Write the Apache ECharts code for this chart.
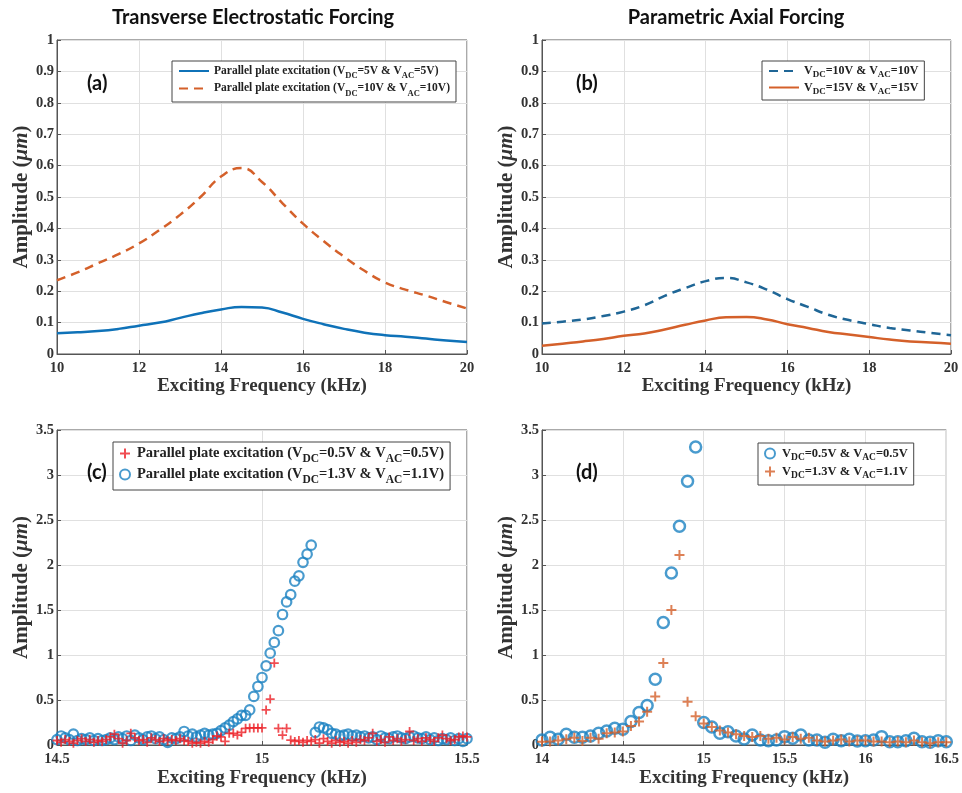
<!DOCTYPE html>
<html>
<head>
<meta charset="utf-8">
<script src="https://cdn.jsdelivr.net/npm/echarts@6/dist/echarts.min.js"></script>
<style>
html,body{margin:0;padding:0;background:#fff;}
#chart{width:962px;height:793px;}
</style>
</head>
<body>
<div id="chart"></div>
<script>
// ---------- DATA ----------
const abFreq = [10,10.5,11,11.5,12,12.5,13,13.5,14,14.5,15,15.5,16,16.5,17,17.5,18,18.5,19,19.5,20];
const aBlue = [0.066,0.069,0.073,0.080,0.090,0.100,0.115,0.130,0.142,0.150,0.148,0.132,0.112,0.095,0.080,0.068,0.060,0.055,0.049,0.043,0.038];
const aOrange = [0.235,0.260,0.289,0.318,0.352,0.395,0.443,0.500,0.565,0.592,0.548,0.480,0.415,0.360,0.310,0.265,0.228,0.205,0.186,0.165,0.145];
const bBlue = [0.097,0.103,0.110,0.121,0.135,0.155,0.185,0.210,0.232,0.242,0.228,0.205,0.175,0.150,0.125,0.108,0.095,0.083,0.075,0.067,0.060];
const bRed = [0.026,0.033,0.040,0.048,0.058,0.065,0.078,0.093,0.107,0.117,0.118,0.110,0.095,0.083,0.070,0.062,0.054,0.046,0.040,0.037,0.033];

const cFreq = [14.50,14.51,14.52,14.53,14.54,14.55,14.56,14.57,14.58,14.59,
  14.60,14.61,14.62,14.63,14.64,14.65,14.66,14.67,14.68,14.69,
  14.70,14.71,14.72,14.73,14.74,14.75,14.76,14.77,14.78,14.79,
  14.80,14.81,14.82,14.83,14.84,14.85,14.86,14.87,14.88,14.89,
  14.90,14.91,14.92,14.93,14.94,14.95,14.96,14.97,14.98,14.99,
  15.00,15.01,15.02,15.03,15.04,15.05,15.06,15.07,15.08,15.09,
  15.10,15.11,15.12,15.13,15.14,15.15,15.16,15.17,15.18,15.19,
  15.20,15.21,15.22,15.23,15.24,15.25,15.26,15.27,15.28,15.29,
  15.30,15.31,15.32,15.33,15.34,15.35,15.36,15.37,15.38,15.39,
  15.40,15.41,15.42,15.43,15.44,15.45,15.46,15.47,15.48,15.49,15.50];
const cBlue = [0.06,0.10,0.08,0.06,0.12,0.05,0.07,0.06,0.08,0.05,
  0.07,0.05,0.06,0.08,0.06,0.09,0.07,0.10,0.05,0.11,
  0.08,0.06,0.09,0.10,0.07,0.09,0.06,0.03,0.08,0.07,
  0.09,0.15,0.10,0.12,0.09,0.11,0.13,0.11,0.12,0.13,
  0.16,0.19,0.22,0.26,0.29,0.33,0.33,0.39,0.54,0.65,
  0.75,0.88,1.02,1.14,1.27,1.45,1.59,1.67,1.82,1.88,
  2.03,2.12,2.22,0.14,0.20,0.19,0.17,0.13,0.12,0.10,
  0.11,0.12,0.10,0.11,0.09,0.10,0.08,0.09,0.06,0.10,
  0.08,0.07,0.09,0.10,0.08,0.07,0.09,0.10,0.08,0.07,
  0.09,0.06,0.08,0.05,0.07,0.06,0.08,0.05,0.07,0.04,0.07];
const cRed = [0.05,0.03,0.06,0.04,0.02,0.05,0.07,0.04,0.06,0.03,
  0.05,0.04,0.06,0.09,0.12,0.07,0.02,0.05,0.13,0.08,
  0.05,0.06,0.03,0.08,0.06,0.04,0.07,0.05,0.06,0.05,
  0.07,0.05,0.04,0.02,0.03,0.02,0.04,0.03,0.06,0.10,
  0.09,0.04,0.13,0.13,0.11,0.14,0.185,0.19,0.19,0.19,
  0.19,0.39,0.51,0.91,0.185,0.11,0.185,0.055,0.04,0.05,
  0.03,0.05,0.04,0.06,0.02,0.07,0.04,0.02,0.05,0.03,
  0.04,0.02,0.05,0.03,0.06,0.05,0.08,0.13,0.04,0.06,
  0.03,0.09,0.05,0.07,0.04,0.06,0.15,0.05,0.07,0.04,
  0.08,0.06,0.04,0.08,0.11,0.07,0.05,0.06,0.09,0.10,0.09];

const dFreq = [14.00,14.05,14.10,14.15,14.20,14.25,14.30,14.35,14.40,14.45,
  14.50,14.55,14.60,14.65,14.70,14.75,14.80,14.85,14.90,14.95,
  15.00,15.05,15.10,15.15,15.20,15.25,15.30,15.35,15.40,15.45,
  15.50,15.55,15.60,15.65,15.70,15.75,15.80,15.85,15.90,15.95,
  16.00,16.05,16.10,16.15,16.20,16.25,16.30,16.35,16.40,16.45,16.50];
const dBlue = [0.056,0.085,0.063,0.12,0.085,0.085,0.10,0.13,0.155,0.185,
  0.174,0.26,0.36,0.44,0.73,1.36,1.91,2.43,2.93,3.31,
  0.25,0.20,0.13,0.148,0.10,0.067,0.11,0.056,0.048,0.056,
  0.093,0.074,0.11,0.056,0.056,0.03,0.063,0.048,0.063,0.044,
  0.048,0.056,0.093,0.037,0.037,0.048,0.074,0.037,0.03,0.048,0.037];
const dOrange = [0.037,0.04,0.05,0.065,0.08,0.045,0.08,0.07,0.13,0.14,
  0.15,0.21,0.26,0.37,0.54,0.91,1.50,2.11,0.48,0.32,
  0.24,0.20,0.16,0.14,0.12,0.10,0.09,0.10,0.07,0.08,
  0.06,0.09,0.07,0.08,0.05,0.04,0.05,0.06,0.04,0.05,
  0.05,0.04,0.04,0.03,0.04,0.03,0.05,0.03,0.02,0.03,0.03];

const abXTicks = {min:10, max:20, interval:2};
const abYTicks = {min:0, max:1, interval:0.1};
const cXTicks = {min:14.5, max:15.5, interval:0.5};
const dXTicks = {min:14, max:16.5, interval:0.5};
const cdYTicks = {min:0, max:3.5, interval:0.5};

const titles = ['Transverse Electrostatic Forcing', 'Parametric Axial Forcing'];
const panelLabels = ['(a)', '(b)', '(c)', '(d)'];
const xName = 'Exciting Frequency (kHz)';

// ---------- STYLE ----------
const BLUE = '#0f72b8';
const ORANGE = '#d4602a';
const RED = '#ec2027';
const CBLUE = '#1c82c2';
const SERIF = '"Liberation Serif", "DejaVu Serif", serif';
const SANS = 'Lato, "Open Sans", sans-serif';
const PLUS = 'path://M4,0 L6,0 L6,4 L10,4 L10,6 L6,6 L6,10 L4,10 L4,6 L0,6 L0,4 L4,4 Z';

function pairs(xs, ys){ return xs.map((x,i)=>[x, ys[i]]); }

const grids = [
  {left:57, top:40, width:410, height:314},
  {left:542, top:40, width:409, height:314},
  {left:57, top:430, width:410, height:315},
  {left:542, top:430, width:409, height:315}
].map(g => Object.assign({show:true, borderColor:'#555', borderWidth:1, backgroundColor:'#fff'}, g));

function xAxis(idx, t, gap){
  return {type:'value', gridIndex:idx, min:t.min, max:t.max, interval:t.interval,
    name:xName, nameLocation:'middle', nameGap:gap,
    nameTextStyle:{fontFamily:SERIF, fontWeight:'bold', fontSize:19, color:'#333'},
    axisLine:{onZero:false, lineStyle:{color:'#555'}},
    axisTick:{inside:true, length:4, lineStyle:{color:'#555'}},
    axisLabel:{fontFamily:SERIF, fontWeight:'bold', fontSize:14.5, color:'#333', margin:7},
    splitLine:{show:true, lineStyle:{color:'#e0e0e0'}}};
}
function yAxis(idx, t){
  return {type:'value', gridIndex:idx, min:t.min, max:t.max, interval:t.interval,
    name:'{n|Amplitude (}{i|μm}{n|)}', nameLocation:'middle', nameGap:23, nameRotate:90,
    nameTextStyle:{rich:{
      n:{fontFamily:SERIF, fontWeight:'bold', fontSize:21, color:'#333'},
      i:{fontFamily:SERIF, fontWeight:'bold', fontStyle:'italic', fontSize:21, color:'#333'}}},
    axisLine:{lineStyle:{color:'#555'}},
    axisTick:{inside:true, length:4, lineStyle:{color:'#555'}},
    axisLabel:{fontFamily:SERIF, fontWeight:'bold', fontSize:14.5, color:'#333', margin:3},
    splitLine:{show:true, lineStyle:{color:'#e0e0e0'}}};
}

const legendText = {
  a1:'{t|Parallel plate excitation (V}{s|DC}{t|=5V & V}{s|AC}{t|=5V)}',
  a2:'{t|Parallel plate excitation (V}{s|DC}{t|=10V & V}{s|AC}{t|=10V)}',
  b1:'{t|V}{s|DC}{t|=10V & V}{s|AC}{t|=10V}',
  b2:'{t|V}{s|DC}{t|=15V & V}{s|AC}{t|=15V}',
  c1:'{t|Parallel plate excitation (V}{s|DC}{t|=0.5V & V}{s|AC}{t|=0.5V)}',
  c2:'{t|Parallel plate excitation (V}{s|DC}{t|=1.3V & V}{s|AC}{t|=1.1V)}',
  d1:'{t|V}{s|DC}{t|=0.5V & V}{s|AC}{t|=0.5V}',
  d2:'{t|V}{s|DC}{t|=1.3V & V}{s|AC}{t|=1.1V}'
};
function legend(names, pos, fs, iw, lh, extra){
  return Object.assign({
    orient:'vertical', data:names, padding:[4,6,4,6], itemGap:2,
    itemWidth:iw, itemHeight:10, backgroundColor:'#fff', borderColor:'#444', borderWidth:1,
    selectedMode:false,
    formatter: n => legendText[n],
    textStyle:{rich:{
      t:{fontFamily:SERIF, fontWeight:'bold', fontSize:fs, color:'#222', lineHeight:lh, verticalAlign:'middle'},
      s:{fontFamily:SERIF, fontWeight:'bold', fontSize:fs-3, color:'#222', verticalAlign:'bottom', lineHeight:fs-3}}}
  }, pos, extra || {});
}

const option = {
  backgroundColor:'#fff',
  animation:false,
  title:[
    {text:titles[0], left:248, top:3, textAlign:'center', textStyle:{fontFamily:SANS, fontWeight:'bold', fontSize:20, color:'#111'}},
    {text:titles[1], left:731, top:3, textAlign:'center', textStyle:{fontFamily:SANS, fontWeight:'bold', fontSize:20, color:'#111'}},
    {text:panelLabels[0], left:82, top:69, textStyle:{fontFamily:SANS, fontWeight:'bold', fontSize:20, color:'#111'}},
    {text:panelLabels[1], left:571, top:69, textStyle:{fontFamily:SANS, fontWeight:'bold', fontSize:20, color:'#111'}},
    {text:panelLabels[2], left:82, top:458, textStyle:{fontFamily:SANS, fontWeight:'bold', fontSize:20, color:'#111'}},
    {text:panelLabels[3], left:571, top:458, textStyle:{fontFamily:SANS, fontWeight:'bold', fontSize:20, color:'#111'}}
  ],
  grid:grids,
  xAxis:[xAxis(0, abXTicks, 22), xAxis(1, abXTicks, 22), xAxis(2, cXTicks, 24), xAxis(3, dXTicks, 24)],
  yAxis:[yAxis(0, abYTicks), yAxis(1, abYTicks), yAxis(2, cdYTicks), yAxis(3, cdYTicks)],
  legend:[
    legend(['a1','a2'], {left:172, top:61}, 11.5, 30, 19, {itemStyle:{opacity:0}}),
    legend(['b1','b2'], {left:762, top:61}, 12, 30, 17, {itemStyle:{opacity:0}}),
    legend(['c1','c2'], {left:113, top:442}, 14.5, 14, 23),
    legend(['d1','d2'], {left:758, top:443}, 12.5, 14, 19)
  ],
  series:[
    {name:'a1', type:'line', xAxisIndex:0, yAxisIndex:0, data:pairs(abFreq, aBlue), smooth:true, symbol:'none',
      lineStyle:{color:BLUE, width:2.5}, itemStyle:{color:BLUE}},
    {name:'a2', type:'line', xAxisIndex:0, yAxisIndex:0, data:pairs(abFreq, aOrange), smooth:true, symbol:'none',
      lineStyle:{color:ORANGE, width:2.5, type:[9,6]}, itemStyle:{color:ORANGE}},
    {name:'b1', type:'line', xAxisIndex:1, yAxisIndex:1, data:pairs(abFreq, bBlue), smooth:true, symbol:'none',
      lineStyle:{color:'#1f6696', width:2.5, type:[9,6]}, itemStyle:{color:'#1f6696'}},
    {name:'b2', type:'line', xAxisIndex:1, yAxisIndex:1, data:pairs(abFreq, bRed), smooth:true, symbol:'none',
      lineStyle:{color:ORANGE, width:2.5}, itemStyle:{color:ORANGE}},
    {name:'c1', type:'scatter', xAxisIndex:2, yAxisIndex:2, data:pairs(cFreq, cRed), symbol:PLUS, symbolSize:9,
      itemStyle:{color:RED}, z:3},
    {name:'c2', type:'scatter', xAxisIndex:2, yAxisIndex:2, data:pairs(cFreq, cBlue), symbol:'circle', symbolSize:9.5,
      itemStyle:{color:'rgba(255,255,255,0)', borderColor:CBLUE, borderWidth:2.2}, z:2},
    {name:'d1', type:'scatter', xAxisIndex:3, yAxisIndex:3, data:pairs(dFreq, dBlue), symbol:'circle', symbolSize:11,
      itemStyle:{color:'rgba(255,255,255,0)', borderColor:CBLUE, borderWidth:2.5}, z:2},
    {name:'d2', type:'scatter', xAxisIndex:3, yAxisIndex:3, data:pairs(dFreq, dOrange), symbol:PLUS, symbolSize:10,
      itemStyle:{color:ORANGE}, z:3}
  ]
};
echarts.init(document.getElementById('chart'), null, {renderer:'canvas'}).setOption(option);
</script>
</body>
</html>
